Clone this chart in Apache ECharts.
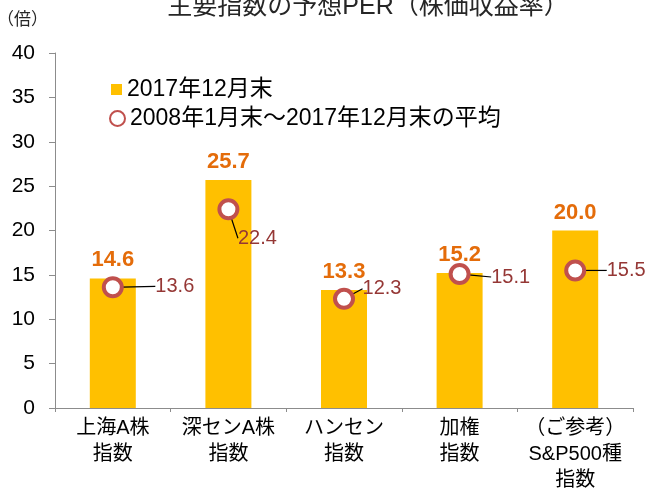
<!DOCTYPE html>
<html>
<head>
<meta charset="utf-8">
<script src="https://cdn.jsdelivr.net/npm/echarts@6/dist/echarts.min.js"></script>
<style>
  html, body { margin: 0; padding: 0; background: #fff; }
  #chart { width: 647px; height: 493px; }
</style>
</head>
<body>
<div id="chart"></div>
<script>
// 指数名
const categories = ['上海A株\n指数', '深センA株\n指数', 'ハンセン\n指数', '加権\n指数', '（ご参考）\nS&P500種\n指数'];
// 2017年12月末
const perLatest = [14.6, 25.7, 13.3, 15.2, 20.0];
// 2008年1月末〜2017年12月末の平均
const perAverage = [13.6, 22.4, 12.3, 15.1, 15.5];
const seriesNames = ['2017年12月末', '2008年1月末～2017年12月末の平均'];

// 平均ラベルのずらし量（見た目用）
const avgLabelShift = [[62, -1], [29, 29], [38, -10], [51, 3], [51, 0]];

const font = '"Liberation Sans", "Noto Sans CJK JP", sans-serif';

const chart = echarts.init(document.getElementById('chart'));

const legendText = { fontSize: 23, color: '#000', fontFamily: font };

const option = {
  animation: false,
  textStyle: { fontFamily: font },
  title: {
    text: '主要指数の予想PER（株価収益率）',
    left: 363,
    textAlign: 'center',
    top: -10,
    textStyle: { fontSize: 25, fontWeight: 'normal', color: '#262626', fontFamily: font }
  },
  graphic: [{
    type: 'text',
    left: -3,
    top: 12,
    style: { text: '（倍）', fontSize: 17, fill: '#262626', fontFamily: font }
  }],
  legend: [
    {
      left: 106,
      top: 73,
      itemWidth: 11,
      itemHeight: 11,
      itemGap: 0,
      textStyle: legendText,
      data: [{ name: seriesNames[0], icon: 'rect' }]
    },
    {
      left: 104,
      top: 102,
      itemWidth: 15,
      itemHeight: 15,
      itemGap: 0,
      textStyle: legendText,
      data: [{ name: seriesNames[1], icon: 'circle' }]
    }
  ],
  grid: {
    left: 55,
    right: 14,
    top: 53,
    bottom: 80
  },
  xAxis: {
    type: 'category',
    data: categories,
    axisLine: { lineStyle: { color: '#8c8c8c', width: 1 } },
    axisTick: { show: true, length: 4, lineStyle: { color: '#8c8c8c' } },
    axisLabel: {
      interval: 0,
      color: '#000',
      fontSize: 20,
      lineHeight: 26,
      margin: 7,
      fontFamily: font
    }
  },
  yAxis: {
    type: 'value',
    min: 0,
    max: 40,
    interval: 5,
    axisLine: { show: true, lineStyle: { color: '#8c8c8c' } },
    axisTick: { show: true, length: 6, lineStyle: { color: '#8c8c8c' } },
    splitLine: { show: false },
    axisLabel: { color: '#000', fontSize: 21, margin: 20, fontFamily: font }
  },
  series: [
    {
      name: seriesNames[0],
      type: 'bar',
      data: perLatest,
      barWidth: 46,
      itemStyle: { color: '#FFC000' },
      label: {
        show: true,
        position: 'top',
        distance: 7,
        formatter: (p) => p.value.toFixed(1),
        color: '#E46C0A',
        fontWeight: 'bold',
        fontSize: 22,
        fontFamily: font
      },
      z: 2
    },
    {
      name: seriesNames[1],
      type: 'scatter',
      data: perAverage,
      symbol: 'circle',
      symbolSize: 18,
      itemStyle: { color: '#fff', borderColor: '#C0504D', borderWidth: 4, opacity: 1 },
      label: {
        show: true,
        position: 'inside',
        formatter: (p) => p.value.toFixed(1),
        color: '#953735',
        fontSize: 20,
        fontFamily: font
      },
      labelLine: {
        show: true,
        lineStyle: { color: '#000', width: 1.2 }
      },
      labelLayout: (params) => {
        const s = avgLabelShift[params.dataIndex];
        return { dx: s[0], dy: s[1] };
      },
      emphasis: { disabled: true },
      z: 5
    }
  ]
};

chart.setOption(option);
</script>
</body>
</html>
